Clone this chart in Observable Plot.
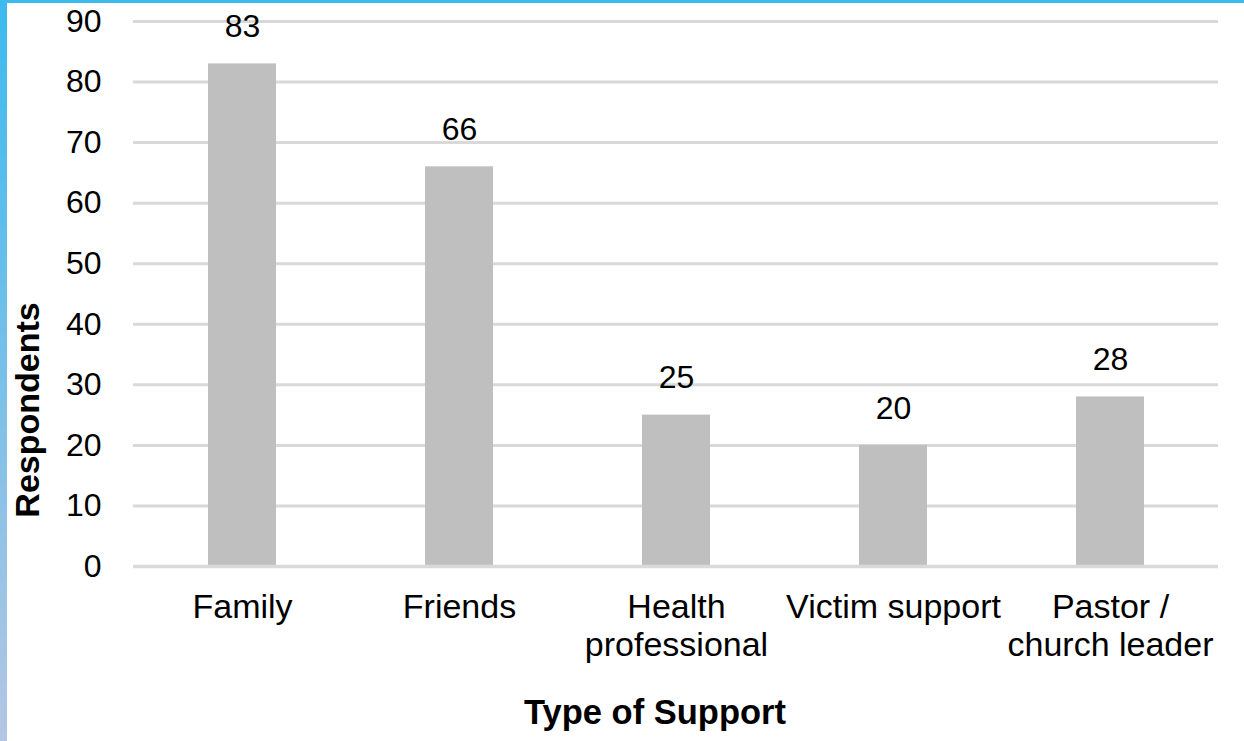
<!DOCTYPE html>
<html>
<head>
<meta charset="utf-8">
<script src="https://cdn.jsdelivr.net/npm/d3@7"></script>
<script src="https://cdn.jsdelivr.net/npm/@observablehq/plot@0.6"></script>
<style>
  html, body { margin: 0; padding: 0; background: #fff; }
  #frame { position: relative; width: 1244px; height: 741px; overflow: hidden; background: #fff; }
  #topbar { position: absolute; left: 0; top: 0; width: 1244px; height: 3px; background: #3CBAEE; z-index: 2; }
  #leftbar { position: absolute; left: 0; top: 0; width: 7px; height: 741px; background: linear-gradient(#3CBAEE, #B4C6E3); z-index: 2; }
  #chart { position: absolute; left: 0; top: 0; }
  svg { font-family: "Liberation Sans", Arial, sans-serif; }
</style>
</head>
<body>
<div id="frame">
  <div id="chart"></div>
  <div id="topbar"></div>
  <div id="leftbar"></div>
</div>
<script>
const categories = ["Family", "Friends", "Health professional", "Victim support", "Pastor / church leader"];
const tickLabels = ["Family", "Friends", "Health\nprofessional", "Victim support", "Pastor /\nchurch leader"];
const respondents = [83, 66, 25, 20, 28];
const yTicks = [0, 10, 20, 30, 40, 50, 60, 70, 80, 90];
const xTitle = "Type of Support";
const yTitle = "Respondents";

const data = categories.map((c, i) => ({category: c, value: respondents[i]}));

const chart = Plot.plot({
  width: 1244,
  height: 741,
  marginLeft: 133,
  marginRight: 26,
  marginTop: 21,
  marginBottom: 175,
  style: {fontFamily: '"Liberation Sans", Arial, sans-serif', background: "transparent", color: "#000"},
  x: {domain: categories, paddingInner: 0.687, paddingOuter: 0.3435},
  y: {domain: [0, 90]},
  marks: [
    Plot.gridY(yTicks, {stroke: "#D9D9D9", strokeOpacity: 1, strokeWidth: 3}),
    Plot.barY(data, {x: "category", y: "value", fill: "#BFBFBF"}),
    Plot.ruleY([0], {stroke: "#D9D9D9", strokeWidth: 3.5}),
    Plot.axisY(yTicks, {tickSize: 0, tickPadding: 32, fontSize: 32, fill: "#000", label: null}),
    Plot.axisX({tickSize: 0, tickPadding: 24, fontSize: 34, fill: "#000", label: null, lineAnchor: "top", lineHeight: 1.12,
      tickFormat: (d) => tickLabels[categories.indexOf(d)]}),
    Plot.text(data, {x: "category", y: "value", text: (d) => String(d.value), dy: -37, fontSize: 32, fill: "#000", lineAnchor: "middle"}),
    Plot.text([yTitle], {frameAnchor: "left", rotate: -90, dx: -105, dy: 116, fontSize: 34, fontWeight: "bold", fill: "#000", textAnchor: "middle", lineAnchor: "middle"}),
    Plot.text([xTitle], {frameAnchor: "bottom", dx: -21, dy: 146, fontSize: 34.5, fontWeight: "bold", fill: "#000", textAnchor: "middle", lineAnchor: "middle"})
  ]
});
document.getElementById("chart").appendChild(chart);
</script>
</body>
</html>
